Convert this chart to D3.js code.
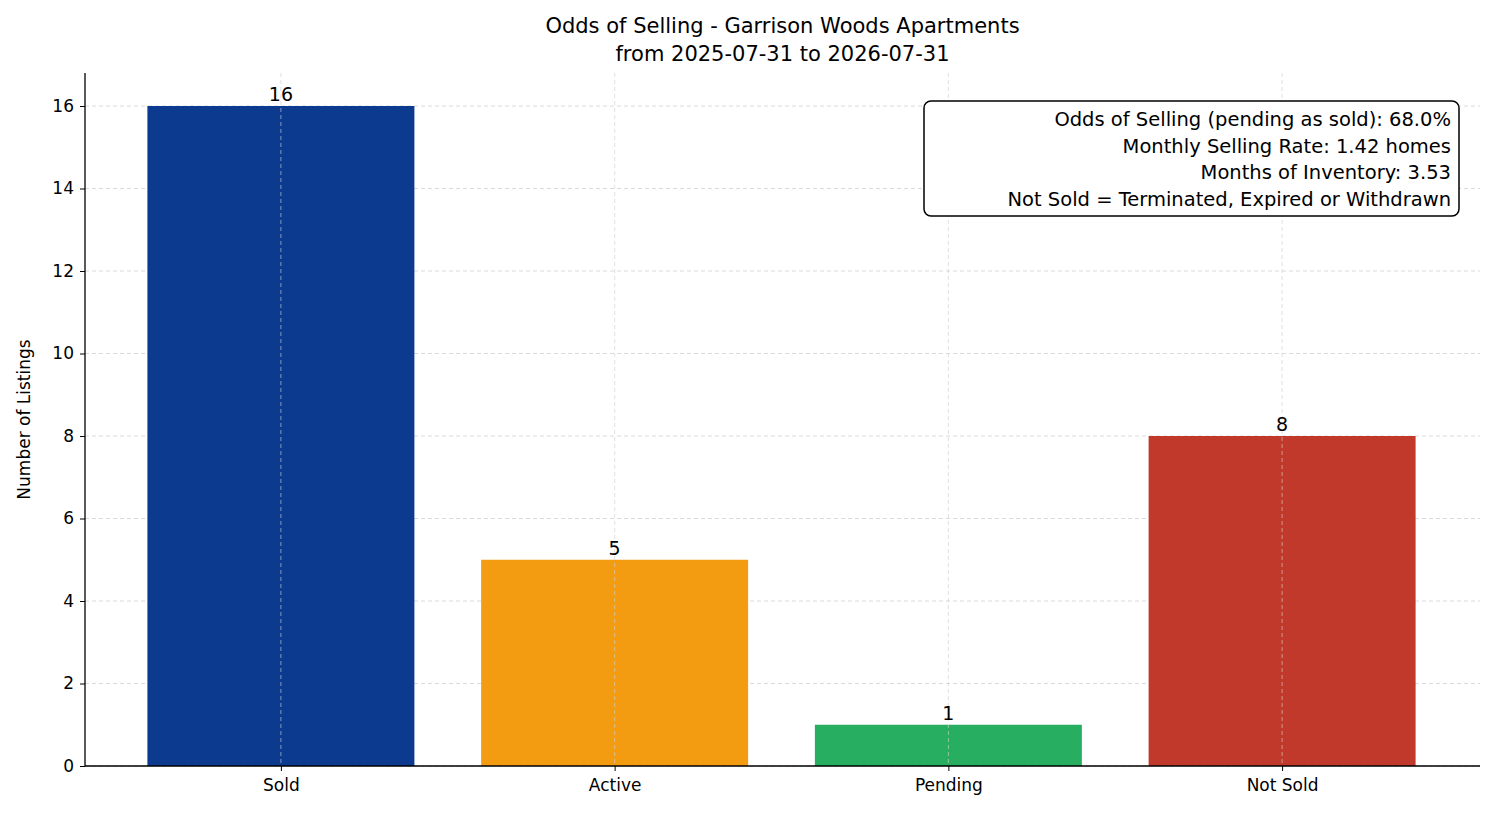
<!DOCTYPE html>
<html><head><meta charset="utf-8">
<script src="https://cdn.jsdelivr.net/npm/d3@7"></script>
<style>body{margin:0;background:#fff}text{font-family:"DejaVu Sans",sans-serif}</style>
</head><body>
<script>
// data
var categories = ["Sold", "Active", "Pending", "Not Sold"];
var counts = [16, 5, 1, 8];
var colors = ["#0b3a8f", "#f39c12", "#27ae60", "#c0392b"];
var yTicks = [0, 2, 4, 6, 8, 10, 12, 14, 16];
var titleLines = ["Odds of Selling - Garrison Woods Apartments", "from 2025-07-31 to 2026-07-31"];
var infoLines = ["Odds of Selling (pending as sold): 68.0%", "Monthly Selling Rate: 1.42 homes",
  "Months of Inventory: 3.53", "Not Sold = Terminated, Expired or Withdrawn"];

var w = 1494, h = 816;
var m = {left: 85, right: 1480, top: 73, bottom: 766};

var svg = d3.select("body").append("svg").attr("width", w).attr("height", h);

var x = d3.scaleLinear().domain([-0.587, 3.593]).range([m.left, m.right]);
var y = d3.scaleLinear().domain([0, 16.8]).range([m.bottom, m.top]);
var bw = (x(1) - x(0)) * 0.8;

// grid
svg.append("g").selectAll("line").data(yTicks).enter().append("line")
  .attr("x1", m.left).attr("x2", m.right)
  .attr("y1", function(d) { return y(d); }).attr("y2", function(d) { return y(d); })
  .attr("stroke", "#d0d0d0").attr("stroke-width", 0.8).attr("stroke-dasharray", "4,3");

// bars
svg.append("g").selectAll("rect").data(counts).enter().append("rect")
  .attr("x", function(d, i) { return x(i) - bw / 2; })
  .attr("width", bw)
  .attr("y", function(d) { return y(d); })
  .attr("height", function(d) { return y(0) - y(d); })
  .attr("fill", function(d, i) { return colors[i]; });

svg.append("g").selectAll("line").data(categories).enter().append("line")
  .attr("x1", function(d, i) { return x(i); }).attr("x2", function(d, i) { return x(i); })
  .attr("y1", m.top).attr("y2", m.bottom)
  .attr("stroke", "#d0d0d0").attr("stroke-width", 0.8).attr("stroke-dasharray", "4,3")
  .attr("opacity", 0.8);

svg.append("g").selectAll("text").data(counts).enter().append("text")
  .attr("x", function(d, i) { return x(i); })
  .attr("y", function(d) { return y(d) - 5; })
  .attr("text-anchor", "middle").attr("font-size", 19)
  .text(function(d) { return d; });

// axes
var ya = svg.append("g").attr("transform", "translate(" + m.left + ",0)")
  .call(d3.axisLeft(y).tickValues(yTicks).tickSize(5).tickPadding(6));
var xa = svg.append("g").attr("transform", "translate(0," + m.bottom + ")")
  .call(d3.axisBottom(x).tickValues([0, 1, 2, 3]).tickSize(5).tickPadding(8)
    .tickFormat(function(d) { return categories[d]; }));
[ya, xa].forEach(function(a) {
  a.selectAll("text").attr("font-size", 17).attr("fill", "#000");
  a.select(".domain").attr("stroke", "#000").attr("stroke-width", 1.3);
  a.selectAll(".tick line").attr("stroke", "#000");
});
ya.select(".domain").attr("d", "M0," + m.bottom + "V" + m.top);
xa.select(".domain").attr("d", "M" + m.left + ",0H" + m.right);

svg.append("text").attr("transform", "translate(30," + ((m.top + m.bottom) / 2) + ") rotate(-90)")
  .attr("text-anchor", "middle").attr("font-size", 17).text("Number of Listings");

svg.selectAll(".title").data(titleLines).enter().append("text")
  .attr("x", (m.left + m.right) / 2).attr("y", function(d, i) { return 33 + i * 28; })
  .attr("text-anchor", "middle").attr("font-size", 21).text(function(d) { return d; });

// info box
svg.append("rect").attr("x", 924).attr("y", 101).attr("width", 535).attr("height", 115)
  .attr("rx", 7).attr("fill", "#fff").attr("stroke", "#000").attr("stroke-width", 1.5);
svg.selectAll(".info").data(infoLines).enter().append("text")
  .attr("x", 1451).attr("y", function(d, i) { return 126 + i * 26.7; })
  .attr("text-anchor", "end").attr("font-size", 19.5).text(function(d) { return d; });
</script>
</body></html>
